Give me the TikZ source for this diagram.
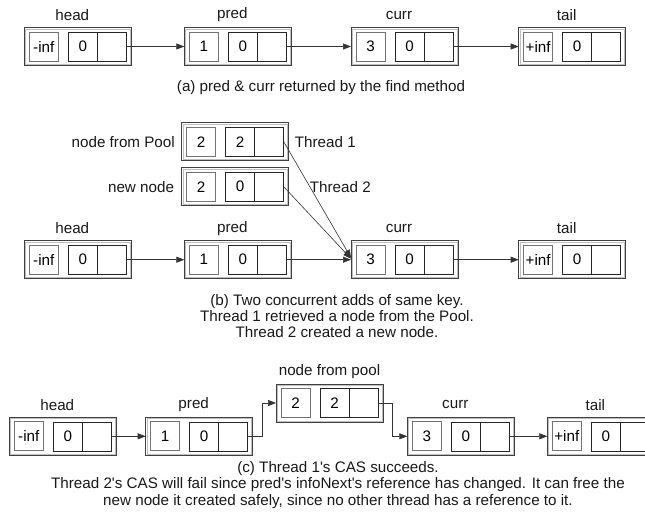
\documentclass[tikz,border=0pt]{standalone}
\usepackage{fontspec}
\setmainfont{Liberation Sans}
\usetikzlibrary{arrows.meta}
\tikzset{
  outerbox/.style={draw=black!75, line width=0.7pt, minimum width=107pt, minimum height=38pt, inner sep=0pt, outer sep=0pt},
  valcell/.style={draw=black!55, line width=0.7pt, minimum width=29pt, minimum height=29pt, inner sep=0pt, outer sep=0pt, font=\fontsize{15.2}{16}\selectfont},
  keycell/.style={draw=black!85, line width=0.6pt, minimum width=29pt, minimum height=29pt, inner sep=0pt, outer sep=0pt, font=\fontsize{15.2}{16}\selectfont},
  lbl/.style={inner sep=0pt, font=\fontsize{15.2}{16}\selectfont, text=black!90},
  caption/.style={inner sep=0pt, align=center, font=\fontsize{15.2}{16.2}\selectfont, text=black!90},
  conn/.style={draw=black!80, line width=0.6pt, -{Triangle[length=8pt,width=6pt]}},
}
% name, x0, y0, value, key
\newcommand{\lnode}[5]{%
  \node[outerbox] (#1) at ({#2+53.5},{#3+19}) {};
  \draw[black!25, line width=0.4pt] ([shift={(1.2,1.2)}]#1.north west) rectangle ([shift={(-1.2,-1.2)}]#1.south east);
  \node[valcell] (#1-v) at ({#2+19.5},{#3+19}) {#4};
  \node[keycell] (#1-k) at ({#2+58.5},{#3+19}) {#5};
  \node[keycell] (#1-n) at ({#2+87.5},{#3+19}) {};
}
\newcommand{\toplbl}[3]{% box, label name, text
  \node[lbl] (#2) at ([xshift=-5.5pt, yshift=12.5pt]#1.north) {#3};
}
\newcommand{\sq}{\textquotesingle}
\begin{document}
\begin{tikzpicture}[x=1pt,y=-1pt]
\useasboundingbox (0,0) rectangle (645,512);
\fill[white] (0,0) rectangle (645,512);
\clip (0,0) rectangle (645,512);

% ---------- (a) ----------
\lnode{ah}{24.3}{27.5}{-inf}{0}
\lnode{ap}{184.3}{27.5}{1}{0}
\lnode{ac}{351}{27.5}{3}{0}
\lnode{at}{518.7}{27.5}{+inf}{0}
\toplbl{ah}{ahl}{head}
\toplbl{ap}{apl}{pred}
\toplbl{ac}{acl}{curr}
\toplbl{at}{atl}{tail}
\draw[conn] (ah-n.east) -- (ap.west);
\draw[conn] (ap-n.east) -- (ac.west);
\draw[conn] (ac-n.east) -- (at.west);
\node[caption] (capa) at (321,88) {(a) pred \& curr returned by the find method};

% ---------- (b) ----------
\lnode{bpool}{181.7}{122.7}{2}{2}
\lnode{bnew}{181.7}{167.7}{2}{0}
\node[lbl, anchor=east] (bpooll) at ([xshift=-6.7pt]bpool.west) {node from Pool};
\node[lbl, anchor=east] (bnewl) at ([xshift=-7.5pt]bnew.west) {new node};
\lnode{bh}{24.3}{240.7}{-inf}{0}
\lnode{bp}{184.3}{240.7}{1}{0}
\lnode{bc}{351}{240.7}{3}{0}
\lnode{bt}{518.7}{240.7}{+inf}{0}
\toplbl{bh}{bhl}{head}
\toplbl{bp}{bpl}{pred}
\toplbl{bc}{bcl}{curr}
\toplbl{bt}{btl}{tail}
\draw[conn] (bh-n.east) -- (bp.west);
\draw[conn] (bp-n.east) -- (bc.west);
\draw[conn] (bc-n.east) -- (bt.west);
\draw[conn] (bpool-n.east) -- ([yshift=2pt]bc.west);
\draw[conn] (bnew-n.east) -- ([yshift=1pt]bc.west);
\node[lbl, anchor=west] (th1) at ([xshift=6pt]bpool.east) {Thread 1};
\node[lbl, anchor=west] (th2) at ([xshift=21pt]bnew.east) {Thread 2};
\node[caption] (capb) at (337,316) {(b) Two concurrent adds of same key.\\Thread 1 retrieved a node from the Pool.\\Thread 2 created a new node.};

% ---------- (c) ----------
\lnode{ch}{9.3}{417.3}{-inf}{0}
\lnode{cp}{145.7}{417.3}{1}{0}
\lnode{cpool}{276}{384}{2}{2}
\lnode{cc}{407.3}{417.3}{3}{0}
\lnode{ct}{547.3}{417.3}{+inf}{0}
\toplbl{ch}{chl}{head}
\toplbl{cp}{cpl}{pred}
\toplbl{cc}{ccl}{curr}
\toplbl{ct}{ctl}{tail}
\node[lbl] (cpooll) at ([yshift=12.5pt]cpool.north) {node from pool};
\draw[conn] (ch-n.east) -- (cp.west);
\draw[conn] (cp-n.east) -- ++(14.4,0) |- (cpool.west);
\draw[conn] (cpool-n.east) -- ++(14,0) |- (cc.west);
\draw[conn] (cc-n.east) -- (ct.west);
\node[caption] (capc) at (338,485) {(c) Thread 1\sq s CAS succeeds.\\Thread 2\sq s CAS will fail since pred\sq s infoNext\sq s reference has changed. It can free the\\new node it created safely, since no other thread has a reference to it.};
\end{tikzpicture}
\end{document}
